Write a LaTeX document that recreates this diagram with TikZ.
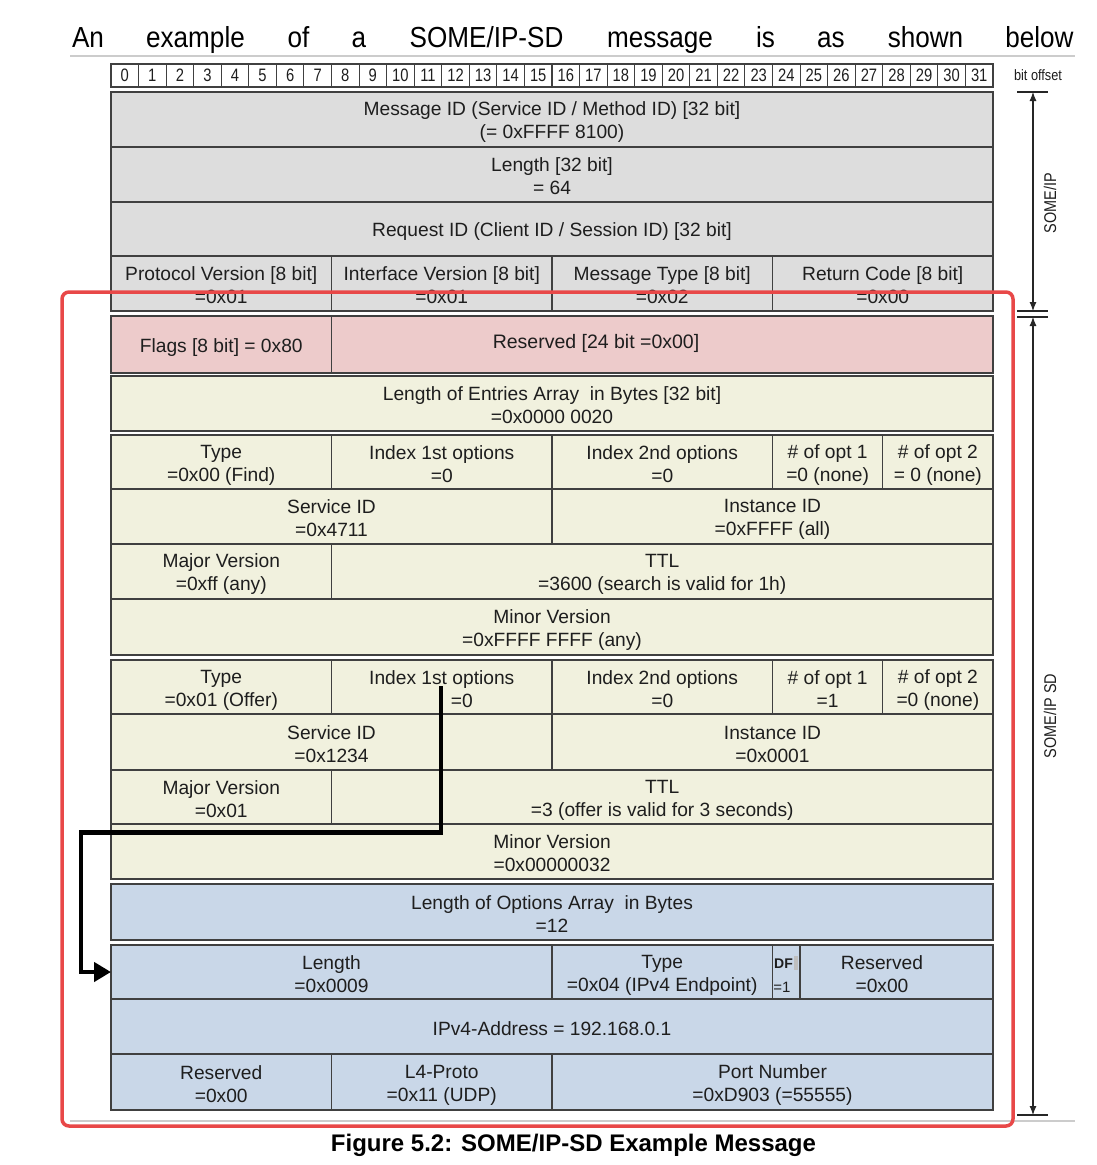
\documentclass[tikz,border=0pt]{standalone}
\usepackage{fontspec}
\setmainfont{Liberation Sans}
\usetikzlibrary{arrows.meta}
\definecolor{cgray}{HTML}{DDDDDD}
\definecolor{cpink}{HTML}{EDCBCB}
\definecolor{cyel}{HTML}{F1F1DE}
\definecolor{cblue}{HTML}{C9D7E8}
\definecolor{cline}{HTML}{404040}
\definecolor{ctext}{HTML}{1E1E1E}
\definecolor{cred}{HTML}{E84848}
\definecolor{crule}{HTML}{CCCCCC}
\tikzset{
  cell/.style={draw=cline, line width=1.3pt, inner sep=0pt, outer sep=0pt, align=center, text=ctext, font=\fontsize{19.2}{23}\selectfont},
  bitcell/.style={draw=cline, line width=1.1pt, fill=white, inner sep=0pt, outer sep=0pt, text=ctext, font=\fontsize{18}{20}\selectfont},
  headword/.style={anchor=base, inner sep=0pt, text=black, font=\fontsize{29}{30}\selectfont},
  dimline/.style={draw=black!85, line width=1.1pt},
  dimarrow/.style={draw=black!85, line width=1.1pt, {Latex[length=9pt,width=7pt]}-{Latex[length=9pt,width=7pt]}},
  smalltext/.style={inner sep=0pt, text=ctext},
  redframe/.style={draw=cred, line width=3.5pt, rounded corners=7pt},
  linkarrow/.style={draw=black, line width=4.6pt, -{Triangle[length=17pt,width=19pt]}},
  greyrule/.style={draw=crule, line width=1.6pt}
}
\newcommand\cellstrut{\rule[-2pt]{0pt}{21pt}}
\newcommand\cellbox[7]{\node[cell, fill=#6, minimum width={#4-#2}, minimum height={#5-#3}] (#1) at ({(#2+#4)/2},{(#3+#5)/2}) {\cellstrut#7\cellstrut};}
\begin{document}
\begin{tikzpicture}[x=1pt,y=-1pt]
\useasboundingbox (0,0) rectangle (1096,1165);
% header sentence
\foreach \xx/\w in {88/An, 195.5/example, 298.5/of, 359/a, 486.5/{SOME/IP-SD}, 660/message, 765.5/is, 831/as, 925.5/shown, 1039.5/below}
  \node[headword] at (\xx,47.5) {\scalebox{0.9}[1]{\w}};
\draw[greyrule] (70,56) -- (1075,56);
% bit offsets
\foreach \i in {0,...,31}{
  \pgfmathsetmacro\xa{111+\i*27.5625}
  \pgfmathsetmacro\xb{\xa+27.5625}
  \node[bitcell, minimum width=27.5625pt, minimum height=23pt] (b\i) at ({(\xa+\xb)/2},75.5) {\scalebox{0.82}[1]{\i}};
}
\node[smalltext, font=\fontsize{15}{16}\selectfont] (bitoff) at (1038,75.5) {\scalebox{0.85}[1]{bit offset}};
% SOME/IP header
\cellbox{msgid}{111}{92}{993}{147}{cgray}{Message ID (Service ID / Method ID) [32 bit]\\(= 0xFFFF 8100)}
\cellbox{len}{111}{147}{993}{202}{cgray}{Length [32 bit]\\= 64}
\cellbox{reqid}{111}{202}{993}{256}{cgray}{Request ID (Client ID / Session ID) [32 bit]}
\cellbox{pv}{111}{256}{331.5}{311}{cgray}{Protocol Version [8 bit]\\=0x01}
\cellbox{iv}{331.5}{256}{552}{311}{cgray}{Interface Version [8 bit]\\=0x01}
\cellbox{mt}{552}{256}{772.5}{311}{cgray}{Message Type [8 bit]\\=0x02}
\cellbox{rc}{772.5}{256}{993}{311}{cgray}{Return Code [8 bit]\\=0x00}
% SD header
\cellbox{flags}{111}{316}{331.5}{373}{cpink}{Flags [8 bit] = 0x80}
\cellbox{rsv}{331.5}{316}{993}{373}{cpink}{}
\node[smalltext, font=\fontsize{19.5}{23}\selectfont] (rsvtext) at (596,343) {Reserved [24 bit =0x00]};
\cellbox{lenent}{111}{376}{993}{431}{cyel}{Length of Entries Array \ in Bytes [32 bit]\\=0x0000 0020}
% entry 1
\cellbox{typea}{111}{435}{331.5}{489}{cyel}{Type\\=0x00 (Find)}
\cellbox{idxa}{331.5}{435}{552}{489}{cyel}{Index 1st options\\=0}
\cellbox{idxb}{552}{435}{772.5}{489}{cyel}{Index 2nd options\\=0}
\cellbox{nopta}{772.5}{435}{882.75}{489}{cyel}{\# of opt 1\\=0 (none)}
\cellbox{noptb}{882.75}{435}{993}{489}{cyel}{\# of opt 2\\= 0 (none)}
\cellbox{sida}{111}{489}{552}{544}{cyel}{Service ID\\=0x4711}
\cellbox{iida}{552}{489}{993}{544}{cyel}{Instance ID\\=0xFFFF (all)}
\cellbox{maja}{111}{544}{331.5}{599}{cyel}{Major Version\\=0xff (any)}
\cellbox{ttla}{331.5}{544}{993}{599}{cyel}{TTL\\=3600 (search is valid for 1h)}
\cellbox{mina}{111}{599}{993}{655}{cyel}{Minor Version\\=0xFFFF FFFF (any)}
% entry 2
\cellbox{typeb}{111}{660}{331.5}{714}{cyel}{Type\\=0x01 (Offer)}
\cellbox{idxc}{331.5}{660}{552}{714}{cyel}{Index 1st options\\\hspace*{40pt}=0}
\cellbox{idxd}{552}{660}{772.5}{714}{cyel}{Index 2nd options\\=0}
\cellbox{noptc}{772.5}{660}{882.75}{714}{cyel}{\# of opt 1\\=1}
\cellbox{noptd}{882.75}{660}{993}{714}{cyel}{\# of opt 2\\=0 (none)}
\cellbox{sidb}{111}{714}{552}{770}{cyel}{Service ID\\=0x1234}
\cellbox{iidb}{552}{714}{993}{770}{cyel}{Instance ID\\=0x0001}
\cellbox{majb}{111}{770}{331.5}{824}{cyel}{Major Version\\=0x01}
\cellbox{ttlb}{331.5}{770}{993}{824}{cyel}{TTL\\=3 (offer is valid for 3 seconds)}
\cellbox{minb}{111}{824}{993}{879}{cyel}{Minor Version\\=0x00000032}
% options
\cellbox{lenopt}{111}{884}{993}{940}{cblue}{Length of Options Array \ in Bytes\\=12}
\cellbox{olen}{111}{945}{552}{999}{cblue}{Length\\=0x0009}
\cellbox{otype}{552}{945}{772.5}{999}{cblue}{Type\\=0x04 (IPv4 Endpoint)}
\cellbox{odf}{772.5}{945}{800}{999}{cblue}{}
\cellbox{orsv}{800}{945}{993}{999}{cblue}{}
\node[cell, draw=none, minimum width=100pt, minimum height=54pt] (orsvtext) at (882,972) {\cellstrut Reserved\\=0x00\cellstrut};
\fill[black!25] (794,956) rectangle (798,970);
\node[smalltext, font=\bfseries\fontsize{14}{15}\selectfont] (dftext) at (783.5,963.5) {DF};
\node[smalltext, font=\fontsize{15}{16}\selectfont] (dfval) at (782,987.5) {=1};
\cellbox{ipv4}{111}{999}{993}{1054}{cblue}{IPv4-Address = 192.168.0.1}
\cellbox{orsvb}{111}{1054}{331.5}{1110}{cblue}{Reserved\\=0x00}
\cellbox{l4}{331.5}{1054}{552}{1110}{cblue}{L4-Proto\\=0x11 (UDP)}
\cellbox{port}{552}{1054}{993}{1110}{cblue}{Port Number\\=0xD903 (=55555)}
% link arrow
\coordinate (ls) at (441,686);
\coordinate (lc) at (81,832.5);
\draw[linkarrow] (ls) |- (lc) |- (olen.west);
% dimension lines
\coordinate (d0) at (1033,92);
\coordinate (d1) at (1033,311);
\coordinate (d2) at (1033,317);
\coordinate (d3) at (1033,1115);
\draw[dimline] (1017,92) -- (1048,92);
\draw[dimline] (1017,311) -- (1048,311);
\draw[dimline] (1017,317) -- (1048,317);
\draw[dimline] (1017,1115) -- (1048,1115);
\draw[dimarrow] (d0) -- (d1);
\draw[dimarrow] (d2) -- (d3);
\node[smalltext, rotate=90, font=\fontsize{17}{18}\selectfont] (lblip) at (1050,203) {\scalebox{0.85}[1]{SOME/IP}};
\node[smalltext, rotate=90, font=\fontsize{17}{18}\selectfont] (lblsd) at (1050,716) {\scalebox{0.85}[1]{SOME/IP SD}};
\draw[greyrule] (70,1121) -- (1075,1121);
% red frame
\draw[redframe] (62,292) rectangle (1013,1126);
% caption
\node[anchor=base, inner sep=0pt, font=\bfseries\fontsize{24}{26}\selectfont] (caption) at (573.5,1151.5) {Figure 5.2: SOME/IP-SD Example Message};
\end{tikzpicture}
\end{document}
